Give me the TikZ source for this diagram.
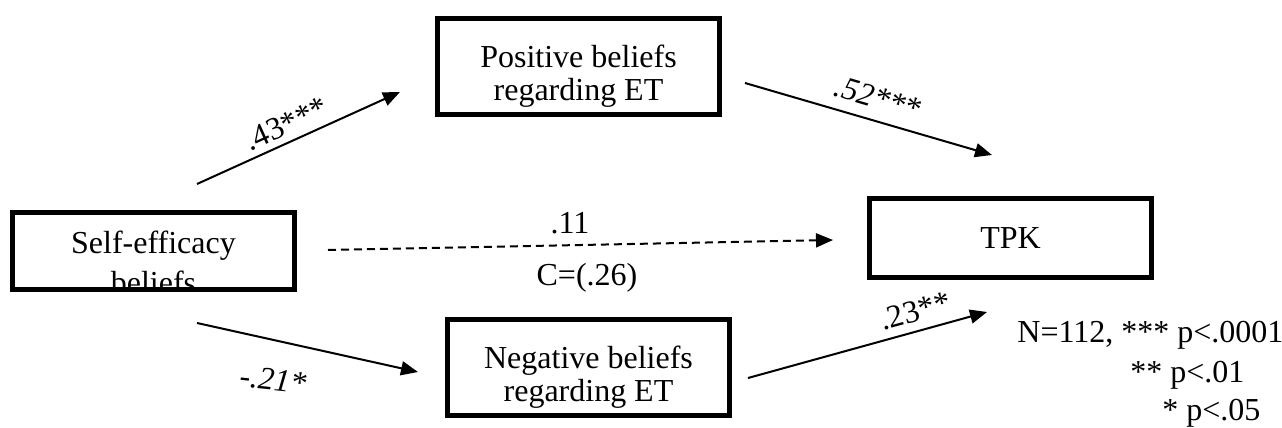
\documentclass[tikz,border=0pt]{standalone}
\usepackage{fontspec}
\setmainfont{Liberation Serif}
\usetikzlibrary{arrows.meta}

\tikzset{
  varbox/.style={draw, line width=2.5pt, minimum width=141pt, inner sep=0pt,
    align=center, font=\fontsize{16}{16.5}\selectfont},
  effect/.style={line width=1pt, -{Triangle[length=8.5pt,width=7pt]}},
  coef/.style={inner sep=0pt, font=\fontsize{16}{18}\selectfont},
}
\newcommand{\boxlift}{\rule{0pt}{21pt}}

\begin{document}
\begin{tikzpicture}[x=0.5pt,y=-0.5pt]
  \useasboundingbox (0,0) rectangle (1282,428);
  % variables
  \node[varbox, minimum height=48pt] (pos) at (578.5,66.5) {\boxlift Positive beliefs\\regarding ET};
  \node[varbox, minimum height=48pt] (neg) at (588.5,367.5) {\boxlift Negative beliefs\\regarding ET};
  \node[varbox, minimum height=39.5pt] (tpk) at (1010.5,238) {TPK};
  \node[varbox, minimum height=38.5pt] (self) at (153.5,251) {};
  \begin{scope}
    \clip (self.north west) rectangle ([yshift=1.25pt]self.south east);
    \node[coef, anchor=base] (selfa) at (153.5,253) {Self-efficacy};
    \node[coef, anchor=base] (selfb) at (153.5,293) {beliefs};
  \end{scope}
  % arrow ends
  \coordinate (s1) at (197,184);  \coordinate (e1) at (400,92);
  \coordinate (s2) at (745,83);   \coordinate (e2) at (992,155);
  \coordinate (s3) at (328,250);  \coordinate (e3) at (833,240);
  \coordinate (s4) at (197,323);  \coordinate (e4) at (418,372);
  \coordinate (s5) at (748,378);  \coordinate (e5) at (987,312);
  \draw[effect] (s1) -- (e1);
  \draw[effect] (s2) -- (e2);
  \draw[effect, dash pattern=on 4pt off 2.5pt] (s3) -- (e3);
  \draw[effect] (s4) -- (e4);
  \draw[effect] (s5) -- (e5);
  % coefficients
  \node[coef, rotate=24.4] (c1) at (286,124) {.43***};
  \node[coef, rotate=-16.3] (c2) at (878,98) {\itshape .52***};
  \node[coef, anchor=base] (c3) at (570,233) {.11};
  \node[coef, anchor=base] (c3b) at (587,285) {C=(.26)};
  \node[coef, rotate=-6] (c4) at (273,380) {\itshape -.21*};
  \node[coef, rotate=15.4] (c5) at (915,311) {.23**};
  % note
  \node[coef, anchor=base west] (n1) at (1017,342) {N=112, *** p<.0001};
  \node[coef, anchor=base west] (n2) at (1130,382) {** p<.01};
  \node[coef, anchor=base west] (n3) at (1162,420) {* p<.05};
\end{tikzpicture}
\end{document}
